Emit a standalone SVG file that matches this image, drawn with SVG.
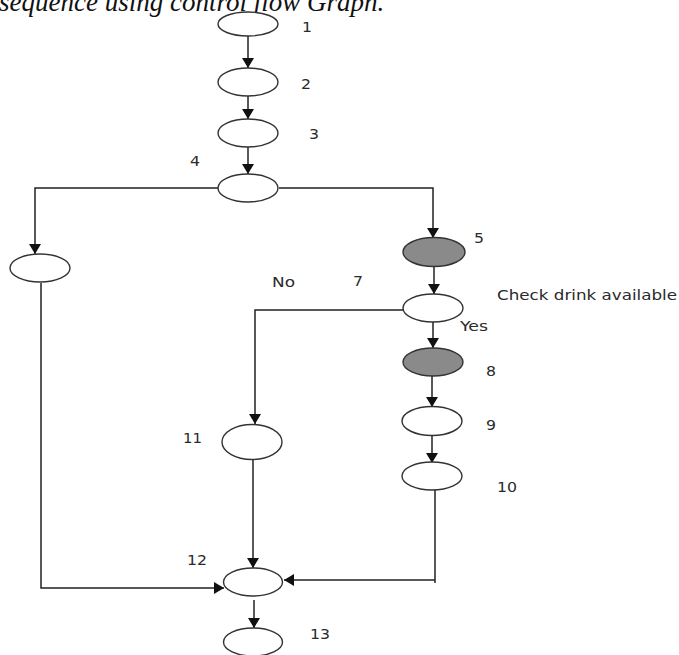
<svg xmlns="http://www.w3.org/2000/svg" width="679" height="655" viewBox="0 0 679 655">
<defs>
<marker id="ah" viewBox="0 0 10 12" refX="10" refY="6" markerWidth="10" markerHeight="12" markerUnits="userSpaceOnUse" orient="auto">
<path d="M0,0 L10,6 L0,12 Z" fill="#111"/>
</marker>
</defs>
<style>
.n{fill:#fff;stroke:#333;stroke-width:1.4}
.g{fill:#8a8a8a;stroke:#333;stroke-width:1.4}
.c{fill:none;stroke:#222;stroke-width:1.5}
.a{marker-end:url(#ah)}
.l{font-family:"DejaVu Sans",Verdana,sans-serif;font-size:13.5px;fill:#2a2a2a}
.t{font-family:"Liberation Serif","Times New Roman",serif;font-style:italic;font-size:27px;fill:#111}
</style>
<rect width="679" height="655" fill="#fff"/>
<text class="t" x="-1" y="11">sequence using control flow Graph.</text>
<g id="connectors">
<line class="c a" x1="248" y1="36" x2="248" y2="68"/>
<line class="c a" x1="248" y1="96" x2="248" y2="119"/>
<line class="c a" x1="248" y1="147" x2="248" y2="174"/>
<polyline class="c a" points="218,188 35,188 35,254"/>
<polyline class="c a" points="279,188 433,188 433,238"/>
<line class="c a" x1="434" y1="267" x2="434" y2="294"/>
<polyline class="c a" points="403,310 255,310 255,424"/>
<line class="c a" x1="433" y1="322" x2="433" y2="348"/>
<line class="c a" x1="432" y1="376" x2="432" y2="407"/>
<line class="c a" x1="432" y1="436" x2="432" y2="463"/>
<line class="c" x1="435" y1="490" x2="435" y2="583"/>
<line class="c a" x1="435" y1="580" x2="284" y2="580"/>
<line class="c a" x1="253" y1="460" x2="253" y2="568"/>
<polyline class="c a" points="41,283 41,588 224,588"/>
<line class="c a" x1="254" y1="600" x2="254" y2="628"/>
</g>
<g id="node1"><ellipse class="n" cx="248" cy="24" rx="30" ry="12"/><text class="l" x="302" y="32" textLength="10" lengthAdjust="spacingAndGlyphs">1</text></g>
<g id="node2"><ellipse class="n" cx="248" cy="82" rx="30" ry="14"/><text class="l" x="301" y="89" textLength="10" lengthAdjust="spacingAndGlyphs">2</text></g>
<g id="node3"><ellipse class="n" cx="248" cy="133" rx="30" ry="14"/><text class="l" x="309" y="139" textLength="10" lengthAdjust="spacingAndGlyphs">3</text></g>
<g id="node4"><ellipse class="n" cx="248" cy="188" rx="30" ry="14"/><text class="l" x="190" y="166" textLength="10" lengthAdjust="spacingAndGlyphs">4</text></g>
<g id="node6"><ellipse class="n" cx="40" cy="268" rx="30" ry="14"/></g>
<g id="node5"><ellipse class="g" cx="434" cy="252" rx="31" ry="14.5"/><text class="l" x="474" y="243" textLength="10" lengthAdjust="spacingAndGlyphs">5</text></g>
<g id="node7"><ellipse class="n" cx="433" cy="308" rx="30" ry="14"/><text class="l" x="272" y="287" textLength="23" lengthAdjust="spacingAndGlyphs">No</text><text class="l" x="353" y="286" textLength="10" lengthAdjust="spacingAndGlyphs">7</text><text class="l" x="497" y="300" textLength="180" lengthAdjust="spacingAndGlyphs">Check drink available</text><text class="l" x="460" y="331" textLength="28" lengthAdjust="spacingAndGlyphs">Yes</text></g>
<g id="node8"><ellipse class="g" cx="433" cy="362" rx="30" ry="14"/><text class="l" x="486" y="376" textLength="10" lengthAdjust="spacingAndGlyphs">8</text></g>
<g id="node9"><ellipse class="n" cx="432" cy="421" rx="30" ry="14.5"/><text class="l" x="486" y="430" textLength="10" lengthAdjust="spacingAndGlyphs">9</text></g>
<g id="node10"><ellipse class="n" cx="432" cy="476" rx="30" ry="14"/><text class="l" x="497" y="492" textLength="20" lengthAdjust="spacingAndGlyphs">10</text></g>
<g id="node11"><ellipse class="n" cx="252" cy="442" rx="30" ry="17.5"/><text class="l" x="183" y="443" textLength="19" lengthAdjust="spacingAndGlyphs">11</text></g>
<g id="node12"><ellipse class="n" cx="253" cy="582" rx="29.5" ry="14"/><text class="l" x="187" y="565" textLength="20" lengthAdjust="spacingAndGlyphs">12</text></g>
<g id="node13"><ellipse class="n" cx="253" cy="642" rx="29.5" ry="14"/><text class="l" x="310" y="639" textLength="20" lengthAdjust="spacingAndGlyphs">13</text></g>
</svg>
